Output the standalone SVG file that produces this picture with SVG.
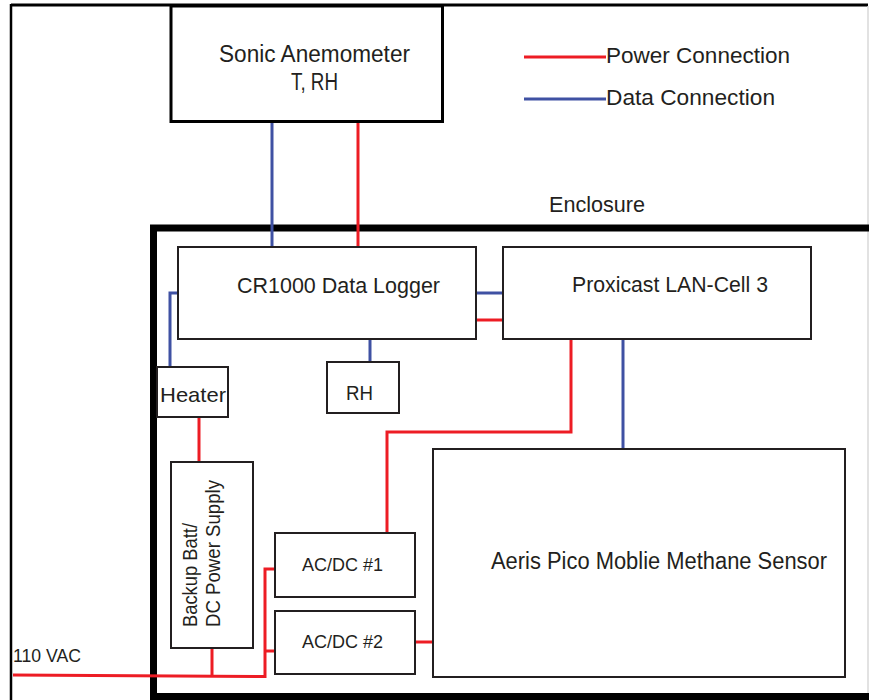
<svg xmlns="http://www.w3.org/2000/svg" width="869" height="700" viewBox="0 0 869 700">
<style>
.box{fill:#fff;stroke:#231f20;stroke-width:2}
.t{font-family:"Liberation Sans",Arial,sans-serif;fill:#231f20}
.pw{fill:none;stroke:#ed1c24;stroke-width:3}
.dt{fill:none;stroke:#3f51a3;stroke-width:3}
</style>
<rect x="0" y="0" width="869" height="700" fill="#fff"/>
<g id="frame">
<line x1="11" y1="5" x2="868" y2="5" stroke="#000" stroke-width="3"/>
<line x1="11" y1="4" x2="11" y2="700" stroke="#000" stroke-width="2.5"/>
<line x1="868" y1="6" x2="868" y2="700" stroke="#d8d8d8" stroke-width="1.5"/>
</g>
<g id="enclosure">
<rect x="153.5" y="228" width="800" height="468.5" fill="none" stroke="#000" stroke-width="7"/>
<text class="t" x="549" y="212" font-size="22" textLength="96" lengthAdjust="spacingAndGlyphs">Enclosure</text>
</g>
<g id="legend">
<line class="pw" x1="524" y1="57" x2="606" y2="57"/>
<line class="dt" x1="524" y1="99" x2="606" y2="99"/>
<text class="t" x="606" y="63" font-size="22" textLength="184" lengthAdjust="spacingAndGlyphs">Power Connection</text>
<text class="t" x="606" y="105" font-size="22" textLength="169" lengthAdjust="spacingAndGlyphs">Data Connection</text>
</g>
<g id="connectors">
<line class="dt" x1="272" y1="123" x2="272" y2="247"/>
<line class="pw" x1="358" y1="123" x2="358" y2="247"/>
<line class="dt" x1="476" y1="293" x2="503" y2="293"/>
<line class="pw" x1="476" y1="320" x2="503" y2="320"/>
<line class="dt" x1="370" y1="320" x2="370" y2="362"/>
<polyline class="dt" points="170,367 170,293 178,293"/>
<line class="pw" x1="199" y1="417" x2="199" y2="462"/>
<polyline class="pw" points="571,339 571,432 387,432 387,533"/>
<line class="dt" x1="623" y1="339" x2="623" y2="449"/>
<line class="pw" x1="415" y1="642" x2="433" y2="642"/>
<polyline class="pw" points="13,675 265,676.5 265,569 275,569"/>
<line class="pw" x1="265" y1="651" x2="275" y2="651"/>
<line class="pw" x1="212" y1="648" x2="212" y2="676"/>
</g>
<g id="sonic">
<rect x="171" y="6" width="271.5" height="115.5" fill="#fff" stroke="#000" stroke-width="3"/>
<text class="t" x="219" y="62" font-size="23" textLength="191" lengthAdjust="spacingAndGlyphs">Sonic Anemometer</text>
<text class="t" x="291" y="90" font-size="23" textLength="47" lengthAdjust="spacingAndGlyphs">T, RH</text>
</g>
<g id="cr1000">
<rect class="box" x="178" y="247" width="298" height="92"/>
<text class="t" x="237" y="293" font-size="22" textLength="203" lengthAdjust="spacingAndGlyphs">CR1000 Data Logger</text>
</g>
<g id="proxicast">
<rect class="box" x="503" y="247" width="308" height="92"/>
<text class="t" x="572" y="292" font-size="22" textLength="196" lengthAdjust="spacingAndGlyphs">Proxicast LAN-Cell 3</text>
</g>
<g id="heater">
<rect class="box" x="157" y="367" width="71" height="50"/>
<text class="t" x="160" y="402" font-size="21" textLength="66" lengthAdjust="spacingAndGlyphs">Heater</text>
</g>
<g id="rh">
<rect class="box" x="327" y="362" width="72" height="51"/>
<text class="t" x="346" y="400" font-size="21" textLength="27" lengthAdjust="spacingAndGlyphs">RH</text>
</g>
<g id="backup">
<rect class="box" x="171" y="462" width="82" height="186"/>
<text class="t" transform="translate(197,627) rotate(-90)" x="0" y="0" font-size="20" textLength="104" lengthAdjust="spacingAndGlyphs">Backup Batt/</text>
<text class="t" transform="translate(220,627) rotate(-90)" x="0" y="0" font-size="20" textLength="147" lengthAdjust="spacingAndGlyphs">DC Power Supply</text>
</g>
<g id="acdc1">
<rect class="box" x="275" y="533" width="140" height="64"/>
<text class="t" x="302" y="571" font-size="19" textLength="81" lengthAdjust="spacingAndGlyphs">AC/DC #1</text>
</g>
<g id="acdc2">
<rect class="box" x="275" y="611" width="140" height="63"/>
<text class="t" x="302" y="648" font-size="19" textLength="81" lengthAdjust="spacingAndGlyphs">AC/DC #2</text>
</g>
<g id="aeris">
<rect class="box" x="433" y="449" width="412" height="228"/>
<text class="t" x="491" y="569" font-size="23" textLength="336" lengthAdjust="spacingAndGlyphs">Aeris Pico Moblie Methane Sensor</text>
</g>
<g id="vac">
<text class="t" x="13" y="662" font-size="19" textLength="68" lengthAdjust="spacingAndGlyphs">110 VAC</text>
</g>
</svg>
